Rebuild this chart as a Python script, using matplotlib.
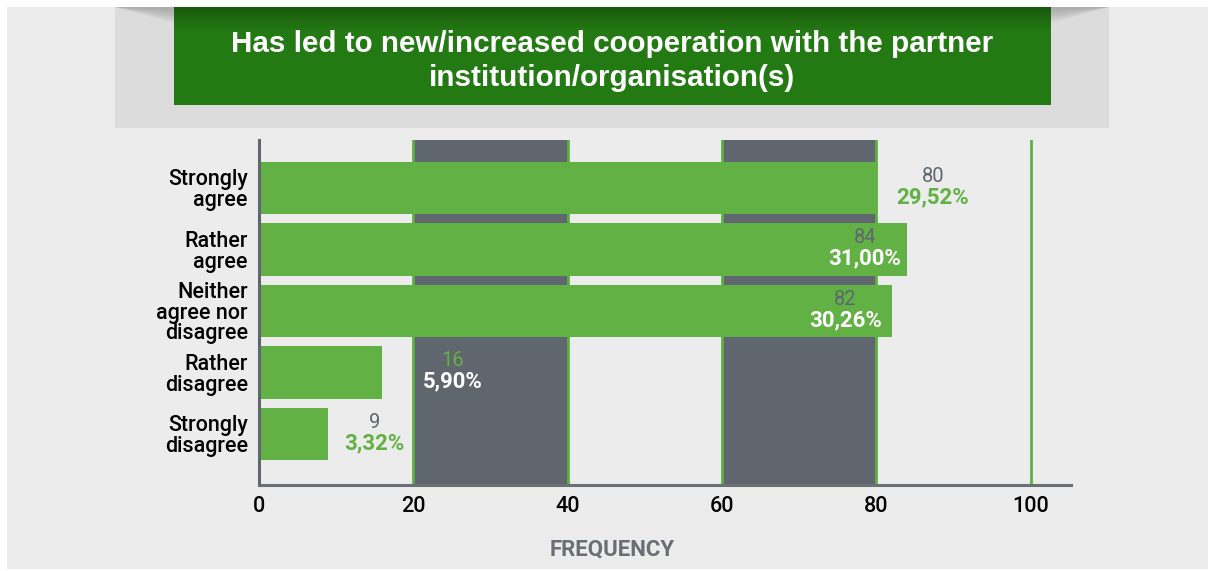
import numpy as np
import matplotlib
matplotlib.use("Agg")
import matplotlib.pyplot as plt
from matplotlib.patches import Rectangle, Polygon

# ---- data ----
categories = ["Strongly\nagree", "Rather\nagree", "Neither\nagree nor\ndisagree",
              "Rather\ndisagree", "Strongly\ndisagree"]
counts = [80, 84, 82, 16, 9]
percents = ["29,52%", "31,00%", "30,26%", "5,90%", "3,32%"]
xticks = [0, 20, 40, 60, 80, 100]
title = "Has led to new/increased cooperation with the partner\ninstitution/organisation(s)"
xlabel = "FREQUENCY"

# ---- styling ----
BAR_GREEN = "#62b145"
LINE_GREEN = "#5db043"
DARK = "#60666d"
BG = "#ececec"
PANEL = "#dcdcdc"
TITLE_GREEN = "#237a13"
FONT = ["Roboto", "DejaVu Sans"]
label_inside = [False, True, True, False, False]
label_dx = [7.3, -5.5, -6.0, 9.1, 6.0]

W, H = 1208, 571
fig = plt.figure(figsize=(W / 100, H / 100), dpi=100, facecolor="white")

# background layer in pixel coordinates
bg = fig.add_axes([0, 0, 1, 1], zorder=0)
bg.axis("off")
bg.add_patch(Rectangle((7, 7), W - 7, H - 9, facecolor=BG, edgecolor="none"))
bg.add_patch(Rectangle((115, 7), 1109 - 115, 128 - 7, facecolor=PANEL, edgecolor="none"))
# curled shading at the top of the header panel
for k in range(12):
    bg.add_patch(Polygon([(115, 7), (174, 7), (174, 7 + 16 - k * 1.2)],
                         closed=True, facecolor="#808080", alpha=0.05, edgecolor="none"))
    bg.add_patch(Polygon([(1109, 7), (1051, 7), (1051, 7 + 16 - k * 1.2)],
                         closed=True, facecolor="#808080", alpha=0.05, edgecolor="none"))
# green title box with a darker top edge
grad = np.linspace(0, 1, 100)
top_col = np.array(matplotlib.colors.to_rgb("#1a5a0e"))
mid_col = np.array(matplotlib.colors.to_rgb(TITLE_GREEN))
t = np.clip(grad / 0.25, 0, 1)[:, None]
rows = (top_col[None, :] * (1 - t) + mid_col[None, :] * t)[:, None, :]
bg.imshow(rows, extent=(174, 1051, 105, 7), aspect="auto", zorder=2, interpolation="bilinear")
bg.set_xlim(0, W)
bg.set_ylim(H, 0)
bg.text(612, 61, title, ha="center", va="center", color="white", fontsize=21.3,
        fontweight="bold", family=["Liberation Sans", "DejaVu Sans"], linespacing=1.3, zorder=3)
bg.text(612, 549, xlabel, ha="center", va="center", color="#6b6f75", fontsize=16,
        fontweight="bold", family=FONT, zorder=3)

# ---- main chart ----
left, right, top, bottom = 259, 1071, 140, 485
ax = fig.add_axes([left / W, (H - bottom) / H, (right - left) / W, (bottom - top) / H], zorder=1)
ax.set_facecolor("none")
y = np.arange(len(categories))
ax.set_xlim(0, 105.2)
ax.set_ylim(4.83, -0.78)

for a, b in [(20, 40), (60, 80)]:
    ax.axvspan(a, b, color=DARK, zorder=1, lw=0)
for xv in xticks[1:]:
    ax.axvline(xv, color=LINE_GREEN, lw=2, zorder=2)

ax.barh(y, counts, height=0.85, color=BAR_GREEN, zorder=3)

for i, (c, p) in enumerate(zip(counts, percents)):
    xc = c + label_dx[i]
    if label_inside[i]:
        c_col, p_col = DARK, "white"
    elif (20 <= xc <= 40) or (60 <= xc <= 80):
        c_col, p_col = BAR_GREEN, "white"
    else:
        c_col, p_col = DARK, BAR_GREEN
    ax.text(xc, y[i] - 0.19, str(c), ha="center", va="center", color=c_col,
            fontsize=14.5, family=FONT, zorder=4)
    ax.text(xc, y[i] + 0.15, p, ha="center", va="center", color=p_col,
            fontsize=16, fontweight="bold", family=FONT, zorder=4)

ax.set_yticks(y)
ax.set_yticklabels(categories, fontsize=15.5, family=FONT,
                   fontweight="medium", linespacing=0.98)
ax.set_xticks(xticks)
ax.set_xticklabels([str(v) for v in xticks], fontsize=15.5, family=FONT,
                   fontweight="medium")
ax.tick_params(axis="both", length=0)
ax.tick_params(axis="x", pad=8)
ax.tick_params(axis="y", pad=8)
for s in ["top", "right"]:
    ax.spines[s].set_visible(False)
ax.spines["left"].set_color(DARK)
ax.spines["left"].set_linewidth(2.2)
ax.spines["bottom"].set_color("#6b7075")
ax.spines["bottom"].set_linewidth(2.2)
ax.spines["left"].set_zorder(5)
ax.spines["bottom"].set_zorder(5)

fig.savefig("out.png", dpi=100, facecolor=fig.get_facecolor())
